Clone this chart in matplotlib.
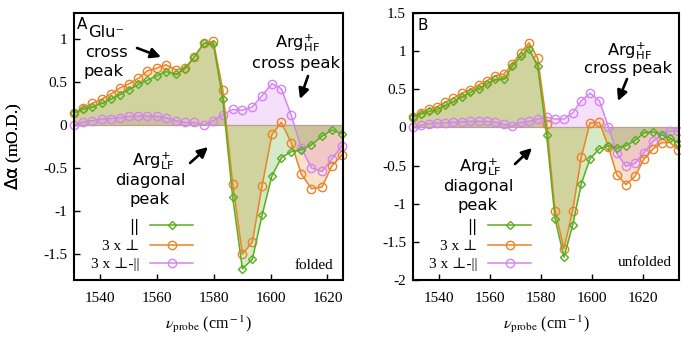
import matplotlib
matplotlib.use('Agg')
import matplotlib.pyplot as plt
from matplotlib.ticker import MultipleLocator, FuncFormatter

plt.rcParams['axes.unicode_minus'] = False
plt.rcParams['font.family'] = ['Liberation Serif', 'DejaVu Serif']
plt.rcParams['mathtext.fontset'] = 'stix'

# panel A, folded
nu_a = [1531.0, 1533.9, 1537.3, 1540.6, 1543.9, 1547.0, 1550.3, 1553.5, 1556.7, 1560.0,
        1563.2, 1566.7, 1569.9, 1573.2, 1576.6, 1579.9, 1583.2, 1586.7, 1590.1, 1593.6,
        1597.0, 1600.5, 1603.8, 1607.3, 1610.8, 1614.4, 1618.1, 1621.5, 1625.1]
par_a = [0.14, 0.18, 0.21, 0.25, 0.30, 0.35, 0.41, 0.47, 0.52, 0.57,
         0.62, 0.59, 0.65, 0.79, 0.95, 0.94, 0.30, -0.84, -1.67, -1.56,
         -1.05, -0.59, -0.38, -0.31, -0.29, -0.23, -0.13, -0.06, -0.10]
perp_a = [0.14, 0.195, 0.25, 0.30, 0.36, 0.43, 0.48, 0.54, 0.63, 0.66,
          0.70, 0.64, 0.66, 0.79, 0.95, 0.97, 0.41, -0.68, -1.50, -1.36,
          -0.71, -0.11, 0.03, -0.21, -0.57, -0.74, -0.72, -0.48, -0.35]
diff_a = [0.0, 0.035, 0.05, 0.07, 0.075, 0.085, 0.10, 0.105, 0.105, 0.10,
          0.085, 0.05, 0.03, 0.03, 0.0, 0.05, 0.12, 0.18, 0.17, 0.21,
          0.34, 0.48, 0.42, 0.11, -0.27, -0.50, -0.54, -0.40, -0.24]

# panel B, unfolded
nu_b = [1529.9, 1532.8, 1536.1, 1539.1, 1542.4, 1545.6, 1548.9, 1552.2, 1555.6, 1558.7,
        1562.0, 1565.5, 1568.7, 1572.0, 1575.3, 1578.7, 1582.2, 1585.5, 1589.0, 1592.4,
        1595.8, 1599.2, 1602.9, 1606.4, 1609.7, 1613.3, 1616.9, 1620.4, 1624.0, 1627.3,
        1630.6, 1633.8]
par_b = [0.14, 0.17, 0.21, 0.23, 0.29, 0.34, 0.40, 0.46, 0.51, 0.57,
         0.63, 0.63, 0.80, 0.93, 1.03, 0.80, -0.10, -1.20, -1.70, -1.28,
         -0.74, -0.41, -0.28, -0.24, -0.27, -0.24, -0.17, -0.07, -0.06, -0.10,
         -0.14, -0.20]
perp_b = [0.14, 0.19, 0.24, 0.27, 0.33, 0.38, 0.45, 0.49, 0.56, 0.61,
          0.68, 0.70, 0.83, 0.98, 1.11, 0.91, 0.05, -1.09, -1.59, -1.09,
          -0.39, 0.06, 0.065, -0.25, -0.62, -0.75, -0.64, -0.41, -0.28, -0.20,
          -0.20, -0.29]
diff_b = [0.0, 0.03, 0.05, 0.06, 0.06, 0.07, 0.075, 0.08, 0.08, 0.08,
          0.07, 0.04, 0.02, 0.065, 0.08, 0.11, 0.135, 0.11, 0.11, 0.19,
          0.35, 0.45, 0.35, 0.01, -0.34, -0.51, -0.47, -0.33, -0.18, -0.10,
          -0.05, -0.05]

labels = ['||', '3 x ⊥', '3 x ⊥-||']
green = '#5aae22'
orange = '#ea8426'
violet = '#d484f2'
SANS = ['DejaVu Sans']

W, H = 681, 340
fig = plt.figure(figsize=(W / 100, H / 100), dpi=100)


def frac(box, px, py):
    l, t, r, b = box
    return (px - l) / (r - l), (b - py) / (b - t)


def panel(box, nu, par, perp, diff, xlim, ylim, yticks, letter, state, notes, arrows):
    l, t, r, b = box
    ax = fig.add_axes([l / W, 1 - b / H, (r - l) / W, (b - t) / H])
    for y, c in [(diff, violet), (perp, orange), (par, green)]:
        ax.fill_between(nu, y, 0, color=c, alpha=0.25, lw=0)
    ax.axhline(0, color='#b8a292', lw=0.9)
    l3, = ax.plot(nu, diff, '-o', color=violet, ms=6, mfc='none', mew=1, lw=1.1, clip_on=False)
    l2, = ax.plot(nu, perp, '-o', color=orange, ms=6, mfc='none', mew=1, lw=1.1, clip_on=False)
    l1, = ax.plot(nu, par, '-D', color=green, ms=3.6, mfc='none', mew=1, lw=1.1, clip_on=False)

    ax.set_xlim(*xlim)
    ax.set_ylim(*ylim)
    ax.xaxis.set_major_locator(MultipleLocator(20))
    ax.set_yticks(yticks)
    ax.yaxis.set_major_formatter(FuncFormatter(lambda v, p: '%g' % v))
    ax.tick_params(direction='in', length=4, width=1, labelsize=11)
    ax.tick_params(axis='x', pad=9)
    ax.tick_params(axis='y', pad=5)
    for s in ax.spines.values():
        s.set_linewidth(1.5)

    ax.set_ylabel(r'$\mathrm{\Delta\alpha}$ (mO.D.)', fontsize=12.5, math_fontfamily='dejavusans')
    ax.yaxis.set_label_coords(frac(box, 24, 0)[0], 0.5)
    ax.set_xlabel(r'$\nu_{\rm probe}$ (cm$^{\rm -1}$)', fontsize=11.5)
    ax.xaxis.set_label_coords(0.5, frac(box, 0, 314)[1])

    leg = ax.legend(handles=[l1, l2, l3], labels=labels, loc='center right',
                    bbox_to_anchor=frac(box, notes['leg'][0], notes['leg'][1]),
                    markerfirst=False, frameon=False, borderpad=0, borderaxespad=0,
                    handlelength=2.8, handletextpad=0.7, labelspacing=0.3, fontsize=11)
    leg.get_texts()[0].set_family(SANS)

    ax.text(*frac(box, *notes['letter']), letter, transform=ax.transAxes,
            family=SANS, fontsize=11, ha='left', va='baseline')
    ax.text(*frac(box, *notes['state']), state, transform=ax.transAxes,
            fontsize=11, ha='right', va='baseline')
    for txt, px, py in notes['lines']:
        ax.text(*frac(box, px, py), txt, transform=ax.transAxes, family=SANS,
                math_fontfamily='dejavusans', fontsize=11.8, ha='center', va='baseline')
    for tail, head in arrows:
        ax.annotate('', xy=frac(box, *head), xytext=frac(box, *tail),
                    xycoords='axes fraction', textcoords='axes fraction',
                    arrowprops=dict(arrowstyle='-|>,head_length=0.6,head_width=0.3',
                                    lw=1.9, color='black', shrinkA=0, shrinkB=0))
    return ax


notes_a = {
    'leg': (193, 245),
    'letter': (77, 29),
    'state': (333, 269),
    'lines': [
        ('Glu⁻', 106, 37), ('cross', 106, 57), ('peak', 104, 76),
        (r'Arg$^{+}_{\rm HF}$', 298, 47), ('cross peak', 296, 68),
        (r'Arg$^{+}_{\rm LF}$', 153, 166), ('diagonal', 150, 185), ('peak', 150, 204),
    ],
}
arrows_a = [((137, 48), (161, 57)), ((308, 76), (300, 99)), ((190, 163), (208, 147))]

notes_b = {
    'leg': (531, 245),
    'letter': (417, 30),
    'state': (672, 266),
    'lines': [
        (r'Arg$^{+}_{\rm HF}$', 630, 55), ('cross peak', 628, 73),
        (r'Arg$^{+}_{\rm LF}$', 480, 171), ('diagonal', 478, 191), ('peak', 478, 210),
    ],
}
arrows_b = [((627, 79), (618, 101)), ((515, 164), (532, 148))]

panel((74, 13, 342.5, 280), nu_a, par_a, perp_a, diff_a, (1530.9, 1625.3), (-1.8, 1.3),
      [-1.5, -1, -0.5, 0, 0.5, 1], 'A', 'folded', notes_a, arrows_a)
panel((413, 13, 679, 280), nu_b, par_b, perp_b, diff_b, (1529.8, 1634.1), (-2, 1.5),
      [-2, -1.5, -1, -0.5, 0, 0.5, 1, 1.5], 'B', 'unfolded', notes_b, arrows_b)

fig.savefig('out.png', dpi=100)
